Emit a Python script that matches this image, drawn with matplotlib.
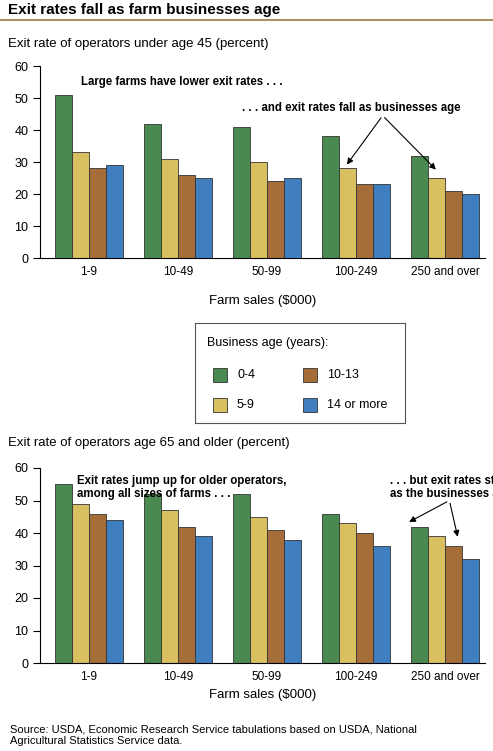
import matplotlib.pyplot as plt
import numpy as np

plt.rcParams['font.family'] = ['Liberation Sans', 'DejaVu Sans']

groups = ['1-9', '10-49', '50-99', '100-249', '250 and over']
ages = ['0-4', '5-9', '10-13', '14 or more']
colors = ['#4a8a50', '#d8c060', '#a56d3a', '#3f7fc0']

# rows: business age, cols: farm sales group
under45 = [
    [51, 42, 41, 38, 32],
    [33, 31, 30, 28, 25],
    [28, 26, 24, 23, 21],
    [29, 25, 25, 23, 20],
]
over65 = [
    [55, 52, 52, 46, 42],
    [49, 47, 45, 43, 39],
    [46, 42, 41, 40, 36],
    [44, 39, 38, 36, 32],
]

W, H = 493, 751
fig = plt.figure(figsize=(W / 100, H / 100), dpi=100)

fig.text(8 / W, 1 - 10 / H, 'Exit rates fall as farm businesses age', fontsize=11,
         fontweight='bold', va='center')
fig.add_artist(plt.Line2D([0, 1], [1 - 20 / H] * 2, color='#9a7a4a', lw=1.2))
fig.text(8 / W, 1 - 44 / H, 'Exit rate of operators under age 45 (percent)', fontsize=9.5, va='center')
fig.text(8 / W, 1 - 443 / H, 'Exit rate of operators age 65 and older (percent)', fontsize=9.5, va='center')
fig.text(10 / W, 1 - 735 / H,
         'Source: USDA, Economic Research Service tabulations based on USDA, National\n'
         'Agricultural Statistics Service data.', fontsize=8, va='center')

x = np.arange(len(groups))
bw = 0.19


def draw(ax, data):
    for i, vals in enumerate(data):
        ax.bar(x + (i - 1.5) * bw, vals, bw, color=colors[i], edgecolor='#333333', lw=0.6)
    ax.set_ylim(0, 60)
    ax.set_xlim(-0.55, 4.45)
    ax.set_yticks(range(0, 61, 10))
    ax.set_xticks(x)
    ax.set_xticklabels(groups, fontsize=8.5)
    ax.tick_params(axis='x', length=0, pad=6)
    ax.tick_params(axis='y', labelsize=9, length=5, direction='out')
    for s in ['top', 'right']:
        ax.spines[s].set_visible(False)
    ax.set_xlabel('Farm sales ($000)', fontsize=9.5)


fs = 8.3
ax1 = fig.add_axes([40 / W, 1 - 258 / H, 445 / W, 192 / H])
draw(ax1, under45)
ax1.xaxis.labelpad = 12
ax1.text(-0.09, 54, 'Large farms have lower exit rates . . .', fontsize=fs, fontweight='bold')
ax1.text(1.72, 46, '. . . and exit rates fall as businesses age', fontsize=fs, fontweight='bold')
arr = dict(arrowstyle='-|>', color='black', lw=0.8, mutation_scale=9)
ax1.annotate('', xy=(2.88, 28.5), xytext=(3.3, 44.5), arrowprops=arr)
ax1.annotate('', xy=(3.92, 27), xytext=(3.3, 44.5), arrowprops=arr)

ax2 = fig.add_axes([40 / W, 1 - 663 / H, 445 / W, 195 / H])
draw(ax2, over65)
ax2.xaxis.labelpad = 4
ax2.text(-0.13, 51, 'Exit rates jump up for older operators,\namong all sizes of farms . . .',
         fontsize=fs, fontweight='bold', linespacing=1.1)
ax2.text(3.38, 51, '. . . but exit rates still fall\nas the businesses age',
         fontsize=fs, fontweight='bold', linespacing=1.1)
ax2.annotate('', xy=(3.57, 43), xytext=(4.05, 50), arrowprops=arr)
ax2.annotate('', xy=(4.15, 38), xytext=(4.05, 50), arrowprops=arr)

# legend
lg = fig.add_axes([195 / W, 1 - 423 / H, 210 / W, 100 / H])
lg.set_xlim(0, 210)
lg.set_ylim(100, 0)
lg.set_xticks([])
lg.set_yticks([])
for s in lg.spines.values():
    s.set_color('#555555')
    s.set_linewidth(0.8)
lg.text(12, 20, 'Business age (years):', fontsize=9, va='center')
pos = [(18, 52), (18, 82), (108, 52), (108, 82)]
for (px, py), lab, c in zip(pos, ages, colors):
    lg.add_patch(plt.Rectangle((px, py - 7), 14, 14, facecolor=c, edgecolor='#333333', lw=0.6))
    lg.text(px + 24, py, lab, fontsize=9, va='center')

fig.savefig('out.png', dpi=100)
